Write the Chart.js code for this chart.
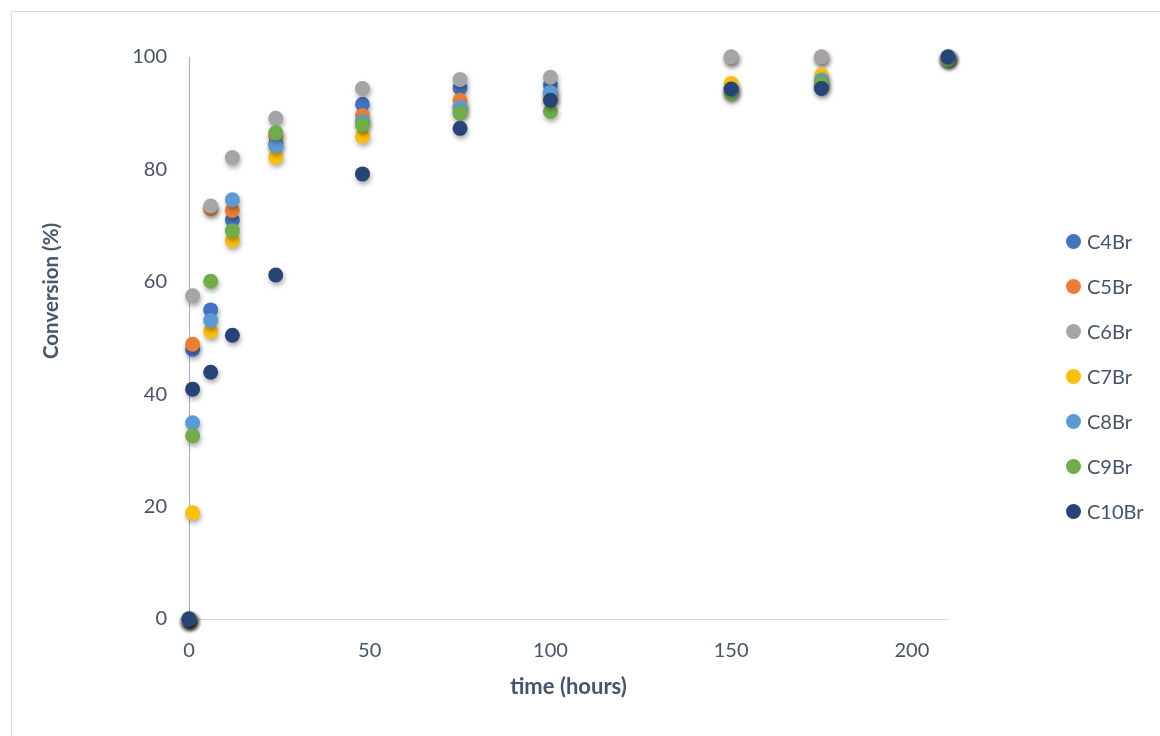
<!DOCTYPE html>
<html>
  <head>
    <meta charset="UTF-8" />
    <title>Conversion vs time</title>
    <style>
      body {
        margin: 0;
        background: #fff;
        font-family: Lato, "Open Sans", sans-serif;
      }

      #frame {
        position: absolute;
        left: 11px;
        top: 11px;
        width: 1170px;
        height: 760px;
        border: 1px solid #d9dde3;
      }

      #wrap {
        position: absolute;
        left: 0;
        top: 0;
        width: 1160px;
        height: 736px;
      }

      #ytitle {
        position: absolute;
        left: 50px;
        top: 291px;
        transform: translate(-50%, -50%) rotate(-90deg);
        white-space: nowrap;
        color: #44546a;
        font-size: 20.5px;
        font-weight: bold;
      }

      #legend {
        position: absolute;
        left: 1066px;
        top: 229px;
        list-style: none;
        margin: 0;
        padding: 0;
      }

      #legend li {
        height: 45px;
        display: flex;
        align-items: flex-start;
        color: #44546a;
        font-size: 20px;
        line-height: 24px;
      }

      #legend span.dot {
        width: 15px;
        height: 15px;
        border-radius: 50%;
        margin: 5px 6px 0 0;
      }
    </style>
  </head>

  <body>
    <div id="frame"></div>
    <div id="wrap"><canvas id="chart"></canvas></div>
    <div id="ytitle">Conversion (%)</div>
    <ul id="legend"></ul>

    <script src="https://cdn.jsdelivr.net/npm/chart.js"></script>

    <script>
      // sampling times (hours)
      const times = [0, 1, 6, 12, 24, 48, 75, 100, 150, 175, 210];

      // conversion (%) per bromide
      const c4Br = [0, 48.0, 55.0, 71.0, 84.5, 91.6, 94.5, 95.0, 94.5, 95.0, 100];
      const c5Br = [0, 48.9, 73.0, 72.7, 86.0, 89.6, 92.3, 93.5, 100, 100, 100];
      const c6Br = [0, 57.5, 73.5, 82.1, 89.1, 94.4, 96.0, 96.4, 100, 100, 100];
      const c7Br = [0, 18.9, 51.2, 67.4, 82.2, 85.9, 91.0, 92.5, 95.3, 96.8, 100];
      const c8Br = [0, 34.9, 53.1, 74.6, 84.2, 88.5, 91.0, 93.7, 94.0, 95.9, 100];
      const c9Br = [0, 32.6, 60.1, 69.1, 86.5, 87.9, 90.0, 90.3, 93.5, 95.3, 99.5];
      const c10Br = [0, 40.9, 43.9, 50.5, 61.2, 79.2, 87.3, 92.3, 94.3, 94.4, 100];

      const seriesNames = ["C4Br", "C5Br", "C6Br", "C7Br", "C8Br", "C9Br", "C10Br"];
      const seriesData = [c4Br, c5Br, c6Br, c7Br, c8Br, c9Br, c10Br];
      const colors = ["#4472C4", "#ED7D31", "#A5A5A5", "#FFC000", "#5B9BD5", "#70AD47", "#264478"];

      const textColor = "#44546A";

      const datasets = seriesNames.map((name, i) => ({
        label: name,
        data: times.map((t, j) => ({ x: t, y: seriesData[i][j] })),
        backgroundColor: colors[i],
        borderColor: colors[i],
        borderWidth: 0,
        pointRadius: 7.5,
        pointHoverRadius: 7.5,
        clip: false,
        // later series sit on top, like the original
        order: seriesNames.length - 1 - i,
      }));

      // soft drop shadow under the markers
      const shadowPlugin = {
        id: "markerShadow",
        beforeDatasetsDraw(chart) {
          const c = chart.ctx;
          c.save();
          c.shadowColor = "rgba(0,0,0,0.35)";
          c.shadowBlur = 5;
          c.shadowOffsetX = 1;
          c.shadowOffsetY = 3;
        },
        afterDatasetsDraw(chart) {
          chart.ctx.restore();
        },
      };

      const ctx = document.getElementById("chart").getContext("2d");
      const chart = new Chart(ctx, {
        type: "scatter",
        data: { datasets },
        options: {
          responsive: true,
          maintainAspectRatio: false,
          animation: false,
          layout: { padding: { left: 30, top: 57, right: 212, bottom: 22 } },
          plugins: { legend: { display: false }, tooltip: { enabled: false } },
          scales: {
            x: {
              type: "linear",
              min: 0,
              max: 210,
              grid: { display: false, drawTicks: false },
              border: { display: true, color: "#d9d9d9", width: 1 },
              ticks: {
                stepSize: 50,
                includeBounds: false,
                padding: 20,
                color: textColor,
                font: { family: "Lato", size: 20 },
              },
              title: {
                display: true,
                text: "time (hours)",
                color: textColor,
                font: { family: "Lato", size: 22, weight: "bold" },
                padding: { top: 0, bottom: 14 },
              },
              afterFit(scale) {
                scale.height = 95;
              },
            },
            y: {
              type: "linear",
              min: 0,
              max: 100,
              grid: { display: false, drawTicks: false },
              border: { display: true, color: "#a6b0c3", width: 1 },
              ticks: {
                stepSize: 20,
                padding: 22,
                color: textColor,
                font: { family: "Lato", size: 20 },
              },
              afterFit(scale) {
                scale.width = 159;
              },
            },
          },
        },
        plugins: [shadowPlugin],
      });

      // legend on the right, built from the same series lists
      const legend = document.getElementById("legend");
      seriesNames.forEach((name, i) => {
        const li = document.createElement("li");
        const dot = document.createElement("span");
        dot.className = "dot";
        dot.style.background = colors[i];
        li.appendChild(dot);
        li.appendChild(document.createTextNode(name));
        legend.appendChild(li);
      });
    </script>
  </body>
</html>
